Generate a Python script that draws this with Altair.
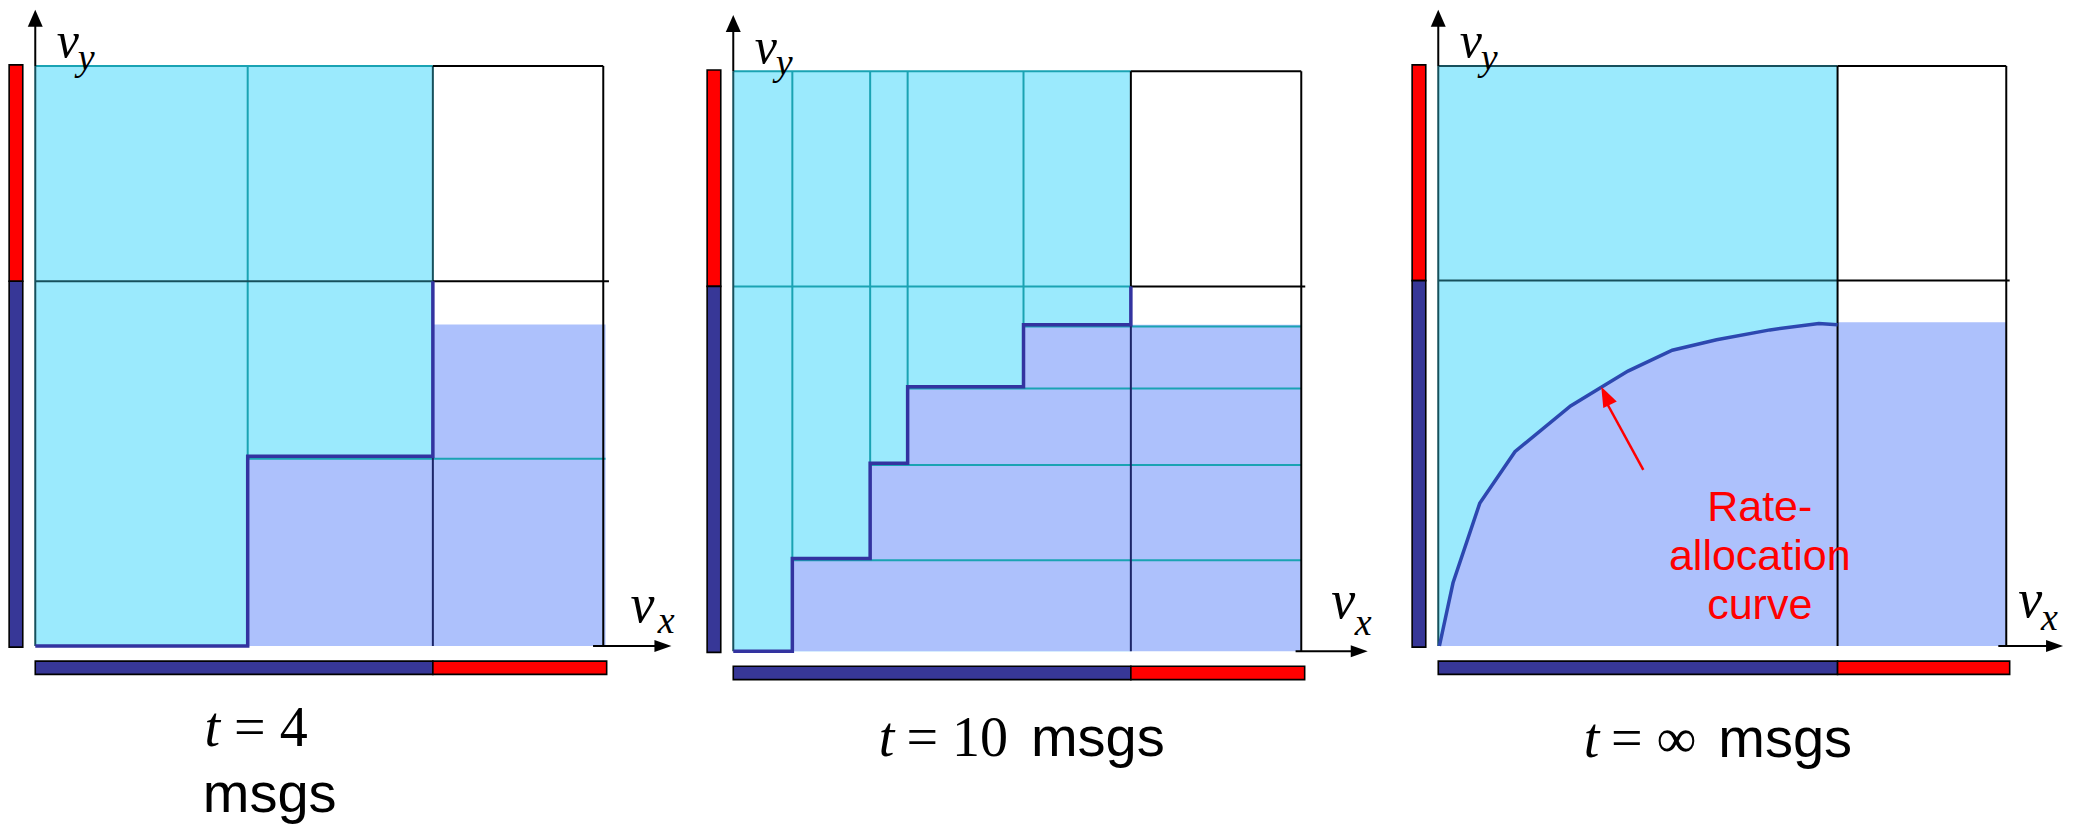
import altair as alt
import pandas as pd

# ---------------- layout (pixels per unit, panel sizes) ----------------
KX = 568
KY = 580
XA = -0.048
PANEL_W = [698, 705, 653]
PANEL_YB = [1.100, 1.109, 1.100]
PANEL_H = 818

# ---------------- colours ----------------
CYAN = "#9BEAFD"
PURPLE = "#ADC1FC"
TEAL = "#1AA3B3"
DTEAL = "#17505C"
NAVY = "#1C2668"
STEPC = "#3333A0"
CURVEC = "#2D48B0"
BARBLUE = "#373797"
RED = "#FF0000"

SERIF = "Liberation Serif"
SANS = "Liberation Sans"

# ---------------- shared geometry (box = [0,1] x [0,1]) ----------------
LEFT_BAR_X = [-0.046, -0.022]
BOTTOM_BAR_Y = [-0.049, -0.026]
BAR_END = 1.006
AXIS_TOP = 1.08
ARROW_UP_TIP = 1.097
VY_POS = [0.038, 1.015]
VY_SUB_POS = [0.075, 0.993]

# ---------------- panel 1 : t = 4 msgs ----------------
P1_SPLIT = 0.70
P1_MID = 0.629
P1_RIGHT_TOP = 0.5545
P1_RIGHT_END = 1.004
P1_STEP_X = [0.0, 0.374, 0.70]
P1_STEP_Y = [0.0, 0.327, 0.629]
P1_FILL_Y = [0.0, 0.327, 0.327]
P1_VX_POS = [1.048, 0.041]
P1_VX_SUB_POS = [1.096, 0.022]
P1_XAXIS = [0.982, 1.12]
P1_TITLE_T = [0.298, -0.173]
P1_TITLE_EQ = [0.350, -0.173, "= 4"]
P1_TITLE_MSGS = [0.295, -0.2865]

# ---------------- panel 2 : t = 10 msgs ----------------
P2_SPLIT = 0.70
P2_MID = 0.629
P2_RIGHT_TOP = 0.563
P2_RIGHT_END = 1.001
P2_STEP_X = [0.0, 0.104, 0.241, 0.307, 0.511, 0.70]
P2_STEP_Y = [0.0, 0.160, 0.324, 0.456, 0.563, 0.629]
P2_FILL_Y = [0.0, 0.160, 0.324, 0.456, 0.563, 0.563]
P2_VX_POS = [1.053, 0.057]
P2_VX_SUB_POS = [1.094, 0.028]
P2_XAXIS = [0.99, 1.117]
P2_TITLE_T = [0.256, -0.181]
P2_TITLE_EQ = [0.305, -0.181, "= 10"]
P2_TITLE_MSGS = [0.524, -0.181]

# ---------------- panel 3 : t = infinity msgs ----------------
P3_SPLIT = 0.703
P3_MID = 0.630
P3_RIGHT_TOP = 0.558
P3_RIGHT_END = 1.0
P3_CURVE_X = [0.002, 0.026, 0.073, 0.135, 0.233, 0.287, 0.334, 0.412, 0.490, 0.584, 0.670, 0.703]
P3_CURVE_Y = [0.0, 0.109, 0.246, 0.335, 0.414, 0.446, 0.474, 0.510, 0.528, 0.545, 0.556, 0.554]
P3_ARROW_TAIL = [0.361, 0.3035]
P3_ARROW_TIP = [0.287, 0.447]
P3_NOTE_X = 0.566
P3_NOTE_LINES = ["Rate-", "allocation", "curve"]
P3_NOTE_Y = [0.216, 0.131, 0.046]
P3_VX_POS = [1.021, 0.050]
P3_VX_SUB_POS = [1.061, 0.027]
P3_XAXIS = [0.986, 1.10]
P3_TITLE_T = [0.256, -0.192]
P3_TITLE_EQ = [0.304, -0.192, "= \u221e"]
P3_TITLE_MSGS = [0.493, -0.192]

UP_HEAD = "M0,0L0.88,2L-0.88,2Z"
RIGHT_HEAD = "M0,0L-2,-0.7L-2,0.7Z"
RED_HEAD = "M0,0L0.75,2L-0.75,2Z"


def scales(i):
    xb = XA + PANEL_W[i] / KX
    yb = PANEL_YB[i]
    ya = yb - PANEL_H / KY
    sx = alt.Scale(domain=[XA, xb], nice=False, zero=False)
    sy = alt.Scale(domain=[ya, yb], nice=False, zero=False)
    return sx, sy


def segs(data, color, width, sx, sy):
    df = pd.DataFrame(data, columns=["x", "y", "x2", "y2"])
    return alt.Chart(df).mark_rule(color=color, strokeWidth=width, strokeCap="butt").encode(
        x=alt.X("x:Q", scale=sx, axis=None),
        y=alt.Y("y:Q", scale=sy, axis=None),
        x2="x2:Q", y2="y2:Q")


def rects(data, color, sx, sy, stroke=False):
    df = pd.DataFrame(data, columns=["x", "x2", "y", "y2"])
    if stroke:
        m = alt.Chart(df).mark_rect(fill=color, stroke="black", strokeWidth=1.6)
    else:
        m = alt.Chart(df).mark_rect(fill=color, strokeWidth=0)
    return m.encode(
        x=alt.X("x:Q", scale=sx, axis=None),
        y=alt.Y("y:Q", scale=sy, axis=None),
        x2="x2:Q", y2="y2:Q")


def area(xs, ys, color, interp, sx, sy):
    df = pd.DataFrame({"x": xs, "y": ys})
    return alt.Chart(df).mark_area(color=color, opacity=1, interpolate=interp).encode(
        x=alt.X("x:Q", scale=sx, axis=None),
        y=alt.Y("y:Q", scale=sy, axis=None),
        y2=alt.datum(0))


def line(xs, ys, color, width, interp, sx, sy):
    df = pd.DataFrame({"x": xs, "y": ys, "i": list(range(len(xs)))})
    return alt.Chart(df).mark_line(color=color, strokeWidth=width, interpolate=interp,
                                   strokeJoin="miter").encode(
        x=alt.X("x:Q", scale=sx, axis=None),
        y=alt.Y("y:Q", scale=sy, axis=None),
        order="i:Q")


def texts(data, sx, sy, font, size, style="normal", color="black", align="left"):
    df = pd.DataFrame(data, columns=["x", "y", "t"])
    return alt.Chart(df).mark_text(align=align, baseline="alphabetic", font=font,
                                   fontSize=size, fontStyle=style, color=color).encode(
        x=alt.X("x:Q", scale=sx, axis=None),
        y=alt.Y("y:Q", scale=sy, axis=None),
        text="t:N")


def head(x, y, shape, size, color, angle, sx, sy):
    df = pd.DataFrame({"x": [x], "y": [y]})
    return alt.Chart(df).mark_point(shape=shape, size=size, filled=True, color=color,
                                    opacity=1, strokeWidth=0, angle=angle).encode(
        x=alt.X("x:Q", scale=sx, axis=None),
        y=alt.Y("y:Q", scale=sy, axis=None))


def common(split, mid, vx, vxs, xaxis, title_t, title_eq, title_msgs, sx, sy):
    out = []
    # capacity bars
    out.append(rects([[LEFT_BAR_X[0], LEFT_BAR_X[1], mid, 1.002]], RED, sx, sy, True))
    out.append(rects([[LEFT_BAR_X[0], LEFT_BAR_X[1], -0.002, mid]], BARBLUE, sx, sy, True))
    out.append(rects([[0.0, split, BOTTOM_BAR_Y[0], BOTTOM_BAR_Y[1]]], BARBLUE, sx, sy, True))
    out.append(rects([[split, BAR_END, BOTTOM_BAR_Y[0], BOTTOM_BAR_Y[1]]], RED, sx, sy, True))
    # axes arrows
    out.append(segs([[0.0, 1.0, 0.0, AXIS_TOP], [xaxis[0], 0.0, xaxis[1] - 0.02, 0.0]],
                    "black", 2, sx, sy))
    out.append(head(0.0, ARROW_UP_TIP, UP_HEAD, 289, "black", 0, sx, sy))
    out.append(head(xaxis[1], 0.0, RIGHT_HEAD, 289, "black", 0, sx, sy))
    # axis labels
    out.append(texts([[VY_POS[0], VY_POS[1], "v"]], sx, sy, SERIF, 50, "italic"))
    out.append(texts([[vx[0], vx[1], "v"]], sx, sy, SERIF, 54, "italic"))
    out.append(texts([[VY_SUB_POS[0], VY_SUB_POS[1], "y"], [vxs[0], vxs[1], "x"]], sx, sy, SERIF, 38, "italic"))
    # titles
    out.append(texts([[title_t[0], title_t[1], "t"]], sx, sy, SERIF, 56, "italic"))
    out.append(texts([title_eq], sx, sy, SERIF, 56))
    out.append(texts([[title_msgs[0], title_msgs[1], "msgs"]], sx, sy, SANS, 56))
    return out


# ---------------- panel 1 ----------------
sx, sy = scales(0)
p1_layers = [
    rects([[0.0, P1_SPLIT, 0.0, 1.0]], CYAN, sx, sy),
    area(P1_STEP_X, P1_FILL_Y, PURPLE, "step-after", sx, sy),
    rects([[P1_SPLIT, P1_RIGHT_END, 0.0, P1_RIGHT_TOP]], PURPLE, sx, sy),
    segs([[0.0, 1.0, P1_SPLIT, 1.0],
          [P1_STEP_X[1], P1_STEP_Y[1], P1_STEP_X[1], 1.0],
          [P1_STEP_X[1], P1_STEP_Y[1] - 0.004, P1_RIGHT_END, P1_STEP_Y[1] - 0.004]], TEAL, 2, sx, sy),
    segs([[0.0, P1_MID, P1_SPLIT, P1_MID],
          [0.0, 0.0, 0.0, 1.0],
          [P1_SPLIT, P1_MID, P1_SPLIT, 1.0]], DTEAL, 2, sx, sy),
    segs([[P1_SPLIT, 1.0, 1.0, 1.0],
          [P1_SPLIT, P1_MID, P1_RIGHT_END + 0.006, P1_MID],
          [1.0, 0.0, 1.0, 1.0]], "black", 2, sx, sy),
    segs([[P1_SPLIT, 0.0, P1_SPLIT, P1_STEP_Y[1]]], NAVY, 2, sx, sy),
    line(P1_STEP_X, P1_STEP_Y, STEPC, 3.5, "step-after", sx, sy),
]
p1_layers += common(P1_SPLIT, P1_MID, P1_VX_POS, P1_VX_SUB_POS, P1_XAXIS,
                    P1_TITLE_T, P1_TITLE_EQ, P1_TITLE_MSGS, sx, sy)
p1 = alt.layer(*p1_layers).properties(width=PANEL_W[0], height=PANEL_H)

# ---------------- panel 2 ----------------
sx, sy = scales(1)
teal2 = [[0.0, 1.0, P2_SPLIT, 1.0], [0.0, P2_MID, P2_SPLIT, P2_MID]]
for k in range(1, len(P2_STEP_X) - 1):
    teal2.append([P2_STEP_X[k], P2_STEP_Y[k], P2_STEP_X[k], 1.0])
    teal2.append([P2_STEP_X[k], P2_STEP_Y[k] - 0.003, P2_RIGHT_END, P2_STEP_Y[k] - 0.003])
p2_layers = [
    rects([[0.0, P2_SPLIT, 0.0, 1.0]], CYAN, sx, sy),
    area(P2_STEP_X, P2_FILL_Y, PURPLE, "step-after", sx, sy),
    rects([[P2_SPLIT, P2_RIGHT_END, 0.0, P2_RIGHT_TOP]], PURPLE, sx, sy),
    segs(teal2, TEAL, 2, sx, sy),
    segs([[0.0, 0.0, 0.0, 1.0]], DTEAL, 2, sx, sy),
    segs([[P2_SPLIT, 1.0, 1.0, 1.0],
          [P2_SPLIT, P2_MID, P2_RIGHT_END + 0.006, P2_MID],
          [P2_SPLIT, P2_MID, P2_SPLIT, 1.0],
          [1.0, 0.0, 1.0, 1.0]], "black", 2, sx, sy),
    segs([[P2_SPLIT, 0.0, P2_SPLIT, P2_RIGHT_TOP]], NAVY, 2, sx, sy),
    line(P2_STEP_X, P2_STEP_Y, STEPC, 3.5, "step-after", sx, sy),
]
p2_layers += common(P2_SPLIT, P2_MID, P2_VX_POS, P2_VX_SUB_POS, P2_XAXIS,
                    P2_TITLE_T, P2_TITLE_EQ, P2_TITLE_MSGS, sx, sy)
p2 = alt.layer(*p2_layers).properties(width=PANEL_W[1], height=PANEL_H)

# ---------------- panel 3 ----------------
sx, sy = scales(2)
p3_layers = [
    rects([[0.0, P3_SPLIT, 0.0, 1.0]], CYAN, sx, sy),
    area(P3_CURVE_X, P3_CURVE_Y, PURPLE, "linear", sx, sy),
    rects([[P3_SPLIT, P3_RIGHT_END, 0.0, P3_RIGHT_TOP]], PURPLE, sx, sy),
    segs([[0.0, 1.0, P3_SPLIT, 1.0],
          [0.0, P3_MID, P3_SPLIT, P3_MID],
          [0.0, 0.0, 0.0, 1.0]], DTEAL, 2, sx, sy),
    segs([[P3_SPLIT, 0.0, P3_SPLIT, 1.0],
          [P3_SPLIT, 1.0, 1.0, 1.0],
          [P3_SPLIT, P3_MID, P3_RIGHT_END + 0.006, P3_MID],
          [1.0, 0.0, 1.0, 1.0]], "black", 2, sx, sy),
    line(P3_CURVE_X, P3_CURVE_Y, CURVEC, 3.5, "linear", sx, sy),
    segs([[P3_ARROW_TAIL[0], P3_ARROW_TAIL[1], P3_ARROW_TIP[0] + 0.008, P3_ARROW_TIP[1] - 0.025]],
         RED, 2.5, sx, sy),
    head(P3_ARROW_TIP[0], P3_ARROW_TIP[1], RED_HEAD, 400, RED, 334, sx, sy),
    texts([[P3_NOTE_X, y, t] for t, y in zip(P3_NOTE_LINES, P3_NOTE_Y)], sx, sy, SANS, 43,
          color=RED, align="center"),
]
p3_layers += common(P3_SPLIT, P3_MID, P3_VX_POS, P3_VX_SUB_POS, P3_XAXIS,
                    P3_TITLE_T, P3_TITLE_EQ, P3_TITLE_MSGS, sx, sy)
p3 = alt.layer(*p3_layers).properties(width=PANEL_W[2], height=PANEL_H)

chart = alt.hconcat(p1, p2, p3, spacing=0, bounds="flush").properties(
    padding=0
).configure_view(stroke=None)

chart.save("out.html", embed_options={"renderer": "svg", "actions": False})
